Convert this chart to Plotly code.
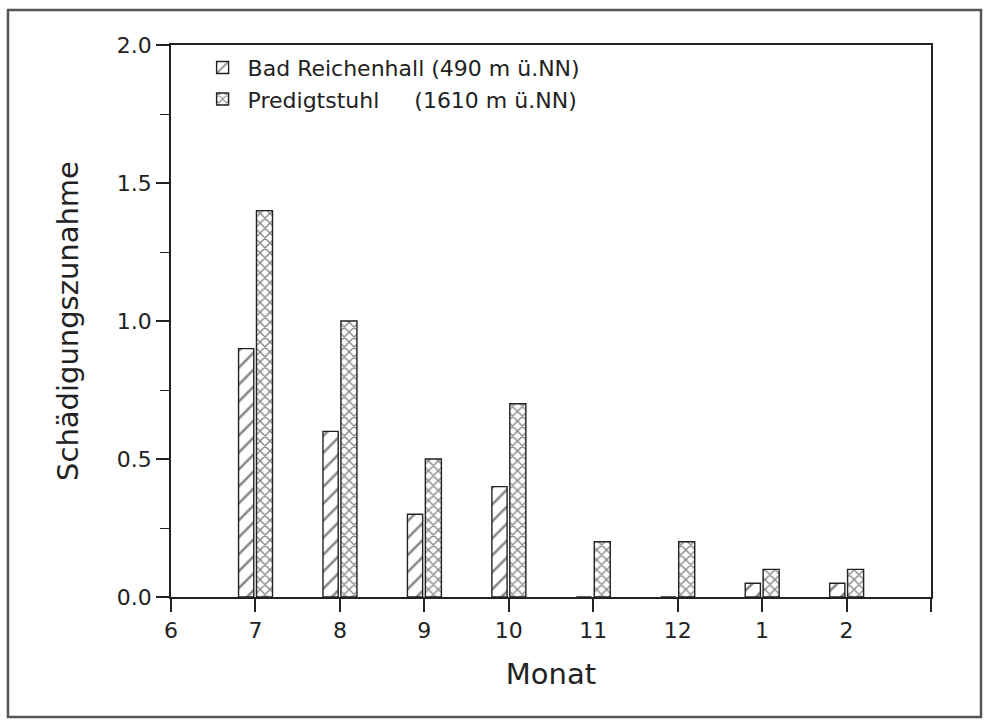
import plotly.graph_objects as go

months = ["6", "7", "8", "9", "10", "11", "12", "1", "2"]
bar_months = ["7", "8", "9", "10", "11", "12", "1", "2"]
bad_reichenhall = [0.9, 0.6, 0.3, 0.4, 0.0, 0.0, 0.05, 0.05]
predigtstuhl = [1.4, 1.0, 0.5, 0.7, 0.2, 0.2, 0.1, 0.1]
y_ticks = [0.0, 0.5, 1.0, 1.5, 2.0]

name_br = "Bad Reichenhall (490 m ü.NN)"
name_ps = "Predigtstuhl\u00a0\u00a0\u00a0\u00a0\u00a0(1610 m ü.NN)"

pos = [months.index(m) for m in bar_months]
tickvals = list(range(len(months) + 1))
ticktext = months + [""]

FONT = "DejaVu Sans"
INK = "#222222"

fig = go.Figure()
fig.add_trace(go.Bar(
    x=pos, y=bad_reichenhall, name=name_br,
    width=0.18, offset=-0.20,
    marker=dict(color="white", line=dict(color=INK, width=1.4),
                pattern=dict(shape="/", fgcolor="#111111", bgcolor="white", size=12, solidity=0.22)),
))
fig.add_trace(go.Bar(
    x=pos, y=predigtstuhl, name=name_ps,
    width=0.19, offset=0.012,
    marker=dict(color="white", line=dict(color=INK, width=1.4),
                pattern=dict(shape="x", fgcolor="#111111", bgcolor="white", size=7, solidity=0.36)),
))

fig.update_layout(
    width=989, height=722,
    margin=dict(l=171, r=58, t=45, b=125),
    paper_bgcolor="white", plot_bgcolor="white",
    font=dict(family=FONT, color=INK, size=22),
    showlegend=True,
    legend=dict(x=0.035, y=0.997, xanchor="left", yanchor="top",
                bgcolor="rgba(0,0,0,0)", font=dict(size=22, family=FONT, color=INK),
                tracegroupgap=0, itemwidth=40),
    barmode="overlay",
)
fig.update_xaxes(
    range=[0, len(months)], tickmode="array", tickvals=tickvals, ticktext=ticktext,
    showgrid=False, zeroline=False, showline=True, linecolor=INK, linewidth=1.5,
    mirror=True, ticks="outside", ticklen=13, tickwidth=1.5, tickcolor=INK,
    tickfont=dict(size=22, family=FONT, color=INK),
    title=dict(text="Monat", font=dict(size=29, family=FONT, color=INK), standoff=22),
)
fig.update_yaxes(
    range=[0, 2.0], tickmode="array", tickvals=y_ticks,
    ticktext=[f"{v:.1f}" for v in y_ticks],
    showgrid=False, zeroline=False, showline=True, linecolor=INK, linewidth=1.5,
    mirror=True, ticks="outside", ticklen=13, tickwidth=1.5, tickcolor=INK,
    minor=dict(dtick=0.25, ticks="outside", ticklen=9, tickwidth=1.3, tickcolor=INK, showgrid=False),
    tickfont=dict(size=22, family=FONT, color=INK),
    title=dict(text="Schädigungszunahme", font=dict(size=29, family=FONT, color=INK), standoff=30),
)
fig.add_shape(type="rect", xref="paper", yref="paper",
              x0=-0.2145, x1=1.0658, y0=-0.2174, y1=1.0634,
              line=dict(color="#555555", width=2.5), fillcolor="rgba(0,0,0,0)", layer="below")

fig.write_html("out.html")
